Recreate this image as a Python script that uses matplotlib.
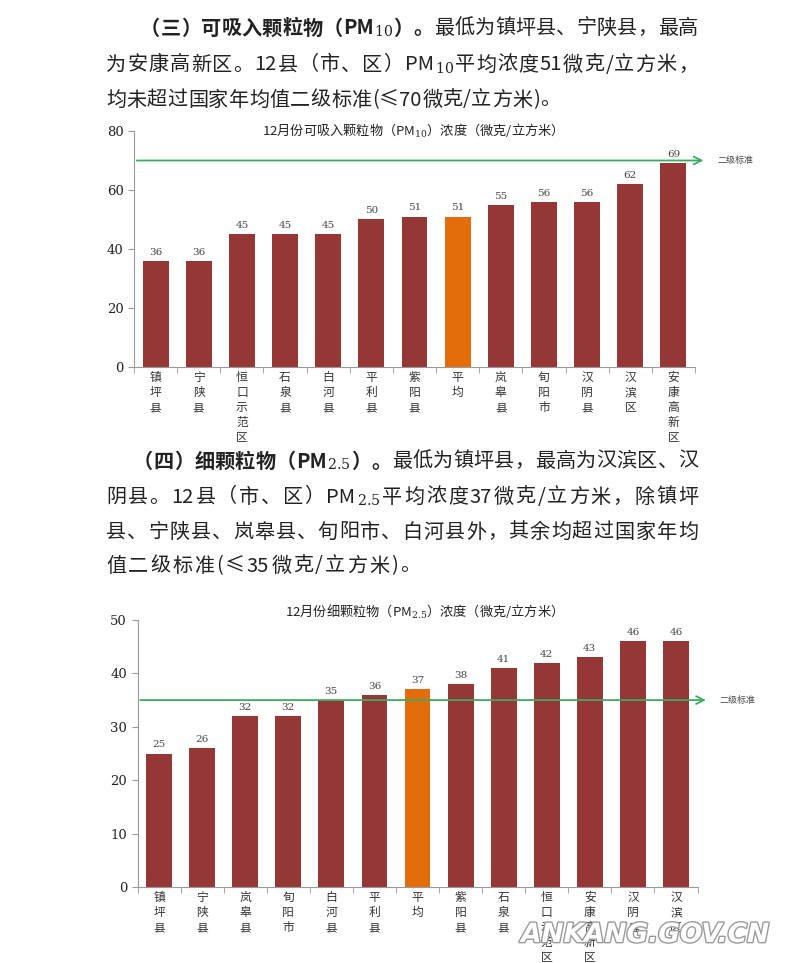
import matplotlib
matplotlib.use("Agg")
import matplotlib.pyplot as plt
import matplotlib.patheffects as pe

plt.rcParams['font.family'] = ['Noto Sans CJK SC', 'DejaVu Sans']
plt.rcParams['mathtext.fontset'] = 'custom'
plt.rcParams['mathtext.rm'] = 'DejaVu Serif'

# PM10 data
pm10_names = ["镇坪县", "宁陕县", "恒口示范区", "石泉县", "白河县", "平利县", "紫阳县",
              "平均", "岚皋县", "旬阳市", "汉阴县", "汉滨区", "安康高新区"]
pm10_vals = [36, 36, 45, 45, 45, 50, 51, 51, 55, 56, 56, 62, 69]
pm10_std = 70

# PM2.5 data
pm25_names = ["镇坪县", "宁陕县", "岚皋县", "旬阳市", "白河县", "平利县", "平均",
              "紫阳县", "石泉县", "恒口示范区", "安康高新区", "汉阴县", "汉滨区"]
pm25_vals = [25, 26, 32, 32, 35, 36, 37, 38, 41, 42, 43, 46, 46]
pm25_std = 35

RED = "#953735"
ORANGE = "#E46C0A"
GREEN = "#3DAA62"
TXT = "#222222"

fig = plt.figure(figsize=(8, 9.63), dpi=100)
renderer = fig.canvas.get_renderer()
W, H = 800, 963


def tokens_of(segments):
    out = []
    for s, w in segments:
        i = 0
        while i < len(s):
            if s[i] == '$':
                j = s.index('$', i + 1) + 1
                out.append((s[i:j], w))
                i = j
            elif s[i].isascii() and s[i].isalnum():
                j = i
                while j < len(s) and s[j].isascii() and s[j].isalnum():
                    j += 1
                out.append((s[i:j], w))
                i = j
            elif s[i] == ' ':
                i += 1
            else:
                out.append((s[i], w))
                i += 1
    return out


def put_line(segments, x0, y, x1=None, size=14.5):
    # justified line: spread the tokens between x0 and x1 (pixels)
    toks = tokens_of(segments)
    texts, widths = [], []
    for t, w in toks:
        tx = fig.text(0, 1 - y / H, t, fontsize=size, fontweight=w,
                      color=TXT, va='center', ha='left')
        texts.append(tx)
        widths.append(tx.get_window_extent(renderer=renderer).width)
    gap = 0
    if x1 is not None and len(toks) > 1:
        gap = (x1 - x0 - sum(widths)) / (len(toks) - 1)
    x = x0
    for tx, wd in zip(texts, widths):
        tx.set_x(x / W)
        x += wd + gap


put_line([("（三）可吸入颗粒物（PM", 'bold'), ("$_{10}$", 'bold'), ("）。", 'bold'),
          ("最低为镇坪县、宁陕县，最高", 'normal')], 140, 28, 698)
put_line([("为安康高新区。12县（市、区）PM", 'normal'), ("$_{10}$", 'normal'),
          ("平均浓度51微克/立方米，", 'normal')], 106, 65, 698)
put_line([("均未超过国家年均值二级标准(≤70微克/立方米)。", 'normal')], 106, 100, 560)

put_line([("（四）细颗粒物（PM", 'bold'), ("$_{2.5}$", 'bold'), ("）。", 'bold'),
          ("最低为镇坪县，最高为汉滨区、汉", 'normal')], 133, 461, 698)
put_line([("阴县。12县（市、区）PM", 'normal'), ("$_{2.5}$", 'normal'),
          ("平均浓度37微克/立方米，除镇坪", 'normal')], 106, 497, 698)
put_line([("县、宁陕县、岚皋县、旬阳市、白河县外，其余均超过国家年均", 'normal')], 106, 532, 698)
put_line([("值二级标准(≤35微克/立方米)。", 'normal')], 106, 566, 420)


def bar_chart(rect, names, vals, std, ymax, title, title_xy):
    ax = fig.add_axes(rect)
    x = list(range(len(names)))
    colors = [ORANGE if n == "平均" else RED for n in names]
    bars = ax.bar(x, vals, width=0.6, color=colors, zorder=2)
    for b, v in zip(bars, vals):
        ax.annotate(str(v), (b.get_x() + b.get_width() / 2, v), xytext=(0, 3),
                    textcoords='offset points', ha='center', va='bottom',
                    fontsize=7.5, color='#444444', family='DejaVu Serif')
    ax.set_xlim(-0.5, len(names) - 0.5)
    ax.set_ylim(0, ymax)
    ax.set_yticks(range(0, ymax + 1, 10 if ymax == 50 else 20))
    ax.set_xticks(x)
    ax.set_xticklabels(["\n".join(n) for n in names], fontsize=8.5,
                       color='#333333', linespacing=1.2)
    ax.set_xticks([i - 0.5 for i in range(len(names) + 1)], minor=True)
    ax.tick_params(axis='x', which='major', length=0, pad=3)
    ax.tick_params(axis='x', which='minor', length=4, color='#999999')
    ax.tick_params(axis='y', length=4, color='#999999', labelsize=9.5,
                   labelcolor='#222222')
    for lab in ax.get_yticklabels():
        lab.set_family('DejaVu Serif')
    for s in ['top', 'right']:
        ax.spines[s].set_visible(False)
    for s in ['left', 'bottom']:
        ax.spines[s].set_color('#999999')
    ax.annotate('', xy=(1.02, std), xytext=(0, std),
                xycoords=('axes fraction', 'data'),
                textcoords=('axes fraction', 'data'),
                arrowprops=dict(arrowstyle='->', color=GREEN, lw=1.3,
                                mutation_scale=14), annotation_clip=False)
    ax.text(1.04, std, "二级标准", transform=ax.get_yaxis_transform(),
            fontsize=6.5, color='#444444', va='center', ha='left')
    ax.text(title_xy[0], title_xy[1], title, transform=ax.transAxes,
            fontsize=9.5, color='#222222', ha='center', va='center')
    return ax


bar_chart([134 / W, 1 - 367 / H, 561 / W, 236 / H], pm10_names, pm10_vals,
          pm10_std, 80, "12月份可吸入颗粒物（PM$_{10}$）浓度（微克/立方米）", (0.49, 1.0))
bar_chart([137.5 / W, 1 - 887 / H, 560 / W, 267 / H], pm25_names, pm25_vals,
          pm25_std, 50, "12月份细颗粒物（PM$_{2.5}$）浓度（微克/立方米）", (0.505, 1.03))

# site watermark, bottom right
fig.text(645 / W, 1 - 935 / H, "ANKANG.GOV.CN", fontsize=19, fontweight='bold',
         fontstyle='italic', family='DejaVu Sans', color='white', ha='center',
         va='center',
         path_effects=[pe.withStroke(linewidth=2, foreground='#9a9a9a')])

fig.savefig("out.png", dpi=100)
